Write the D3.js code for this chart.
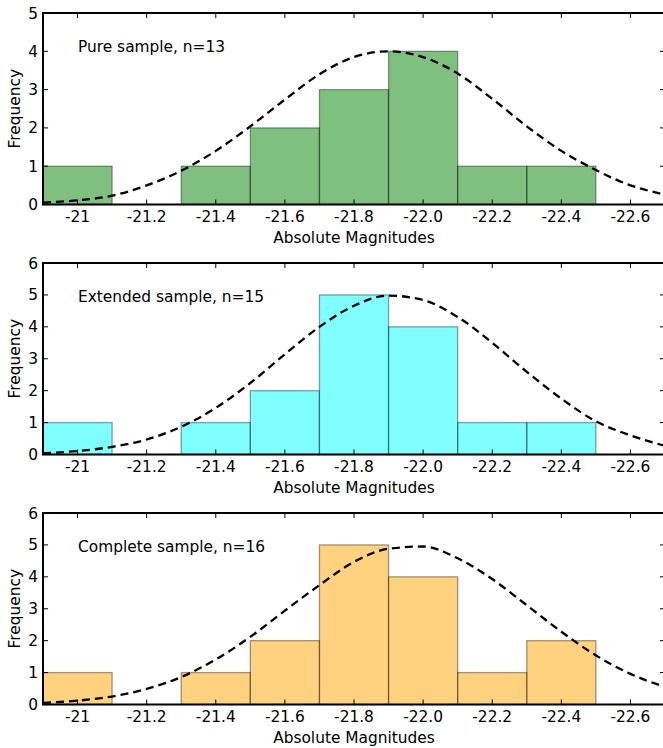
<!DOCTYPE html>
<html>
<head>
<meta charset="utf-8">
<script src="https://cdn.jsdelivr.net/npm/d3@7"></script>
<style>
  html, body { margin: 0; padding: 0; background: #fff; }
  svg { display: block; font-family: "DejaVu Sans", sans-serif; }
</style>
</head>
<body>
<svg width="663" height="748"></svg>
<script>
const width = 663;
const height = 748;

// histogram bins (absolute magnitude edges)
const binEdges = [-20.9, -21.1, -21.3, -21.5, -21.7, -21.9, -22.1, -22.3, -22.5];
const pureCounts = [1, 0, 1, 2, 3, 4, 1, 1];
const extendedCounts = [1, 0, 1, 2, 5, 4, 1, 1];
const completeCounts = [1, 0, 1, 2, 5, 4, 1, 2];

// dashed fit curves
const curveX = [-20.9, -21.0, -21.1, -21.2, -21.3, -21.4, -21.5, -21.6, -21.7, -21.8,
                -21.9, -22.0, -22.1, -22.2, -22.3, -22.4, -22.5, -22.6, -22.7];
const pureCurve = [0.05, 0.11, 0.23, 0.5, 0.88, 1.4, 2.04, 2.74, 3.4, 3.85,
                   4.0, 3.85, 3.42, 2.76, 2.04, 1.4, 0.9, 0.5, 0.26];
const extendedCurve = [0.04, 0.11, 0.24, 0.47, 0.87, 1.46, 2.24, 3.14, 4.0, 4.66,
                       4.98, 4.84, 4.31, 3.5, 2.59, 1.75, 1.04, 0.6, 0.27];
const completeCurve = [0.05, 0.12, 0.25, 0.49, 0.86, 1.41, 2.12, 2.94, 3.74, 4.47,
                       4.88, 4.95, 4.58, 3.93, 3.11, 2.28, 1.54, 0.96, 0.55];

const xTicks = [-21, -21.2, -21.4, -21.6, -21.8, -22.0, -22.2, -22.4, -22.6];
const xTickLabels = ["-21", "-21.2", "-21.4", "-21.6", "-21.8", "-22.0", "-22.2", "-22.4", "-22.6"];

const panels = [
  { label: "Pure sample, n=13", counts: pureCounts, curve: pureCurve, yMax: 5, fill: "#008000", top: 13 },
  { label: "Extended sample, n=15", counts: extendedCounts, curve: extendedCurve, yMax: 6, fill: "#00ffff", top: 263 },
  { label: "Complete sample, n=16", counts: completeCounts, curve: completeCurve, yMax: 6, fill: "#ffa500", top: 513 }
];

const left = 43, right = 665, panelH = 191.5;
const fs = "15.4px";

const svg = d3.select("svg")
  .attr("viewBox", [0, 0, width, height]);

const x = d3.scaleLinear().domain([-20.9, -22.7]).range([left, right]);

panels.forEach((p, pi) => {
  const y = d3.scaleLinear().domain([0, p.yMax]).range([p.top + panelH, p.top]);
  const g = svg.append("g");

  const clipId = "clip" + pi;
  g.append("clipPath").attr("id", clipId)
    .append("rect")
    .attr("x", left).attr("y", p.top)
    .attr("width", right - left).attr("height", panelH);

  // bars
  const bins = p.counts.map((c, i) => ({ x0: binEdges[i], x1: binEdges[i] - 0.2, c }))
    .filter(d => d.c > 0);
  g.selectAll("rect.bar")
    .data(bins)
    .enter()
    .append("rect")
    .attr("class", "bar")
    .attr("x", d => x(d.x0))
    .attr("width", d => x(d.x1) - x(d.x0))
    .attr("y", d => y(d.c))
    .attr("height", d => y(0) - y(d.c))
    .attr("fill", p.fill)
    .attr("fill-opacity", 0.5)
    .attr("stroke", "#000")
    .attr("stroke-opacity", 0.38)
    .attr("stroke-width", 1.3);

  // dashed curve
  const line = d3.line()
    .x((d, i) => x(curveX[i]))
    .y(d => y(d))
    .curve(d3.curveMonotoneX);
  g.append("path")
    .attr("clip-path", `url(#${clipId})`)
    .attr("d", line(p.curve))
    .attr("fill", "none")
    .attr("stroke", "#000")
    .attr("stroke-width", 2.3)
    .attr("stroke-dasharray", "8,5");

  // ticks, inward on all sides
  const tl = 5;
  xTicks.forEach(t => {
    g.append("line").attr("x1", x(t)).attr("x2", x(t))
      .attr("y1", y(0)).attr("y2", y(0) - tl).attr("stroke", "#000").attr("stroke-width", 1);
    g.append("line").attr("x1", x(t)).attr("x2", x(t))
      .attr("y1", p.top).attr("y2", p.top + tl).attr("stroke", "#000").attr("stroke-width", 1);
  });
  g.selectAll("text.xt")
    .data(xTicks)
    .enter()
    .append("text")
    .attr("class", "xt")
    .attr("x", d => x(d))
    .attr("y", y(0) + 17)
    .attr("text-anchor", "middle")
    .style("font-size", fs)
    .text((d, i) => xTickLabels[i]);

  const yTicks = d3.range(0, p.yMax + 1);
  yTicks.forEach(t => {
    g.append("line").attr("x1", left).attr("x2", left + tl)
      .attr("y1", y(t)).attr("y2", y(t)).attr("stroke", "#000").attr("stroke-width", 1);
    g.append("line").attr("x1", right).attr("x2", right - tl)
      .attr("y1", y(t)).attr("y2", y(t)).attr("stroke", "#000").attr("stroke-width", 1);
  });
  g.selectAll("text.yt")
    .data(yTicks)
    .enter()
    .append("text")
    .attr("class", "yt")
    .attr("x", left - 5)
    .attr("y", d => y(d))
    .attr("dy", "0.36em")
    .attr("text-anchor", "end")
    .style("font-size", fs)
    .text(d => d);

  // frame
  g.append("rect")
    .attr("x", left).attr("y", p.top)
    .attr("width", right - left).attr("height", panelH)
    .attr("fill", "none").attr("stroke", "#000").attr("stroke-width", 2);

  // labels
  g.append("text")
    .attr("x", 78).attr("y", p.top + 39)
    .style("font-size", fs)
    .text(p.label);

  g.append("text")
    .attr("x", 354)
    .attr("y", y(0) + 38)
    .attr("text-anchor", "middle")
    .style("font-size", fs)
    .text("Absolute Magnitudes");

  g.append("text")
    .attr("transform", `translate(20,${p.top + panelH / 2}) rotate(-90)`)
    .attr("text-anchor", "middle")
    .style("font-size", fs)
    .text("Frequency");
});
</script>
</body>
</html>
